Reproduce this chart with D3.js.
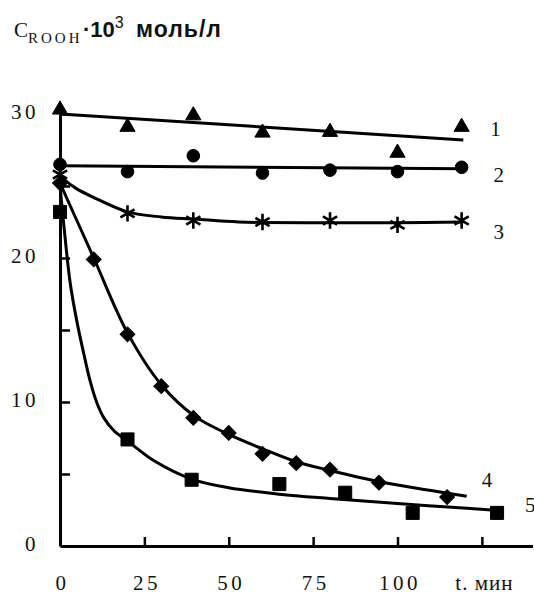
<!DOCTYPE html>
<html>
<head>
  <meta charset="utf-8">
  <script src="https://d3js.org/d3.v7.min.js"></script>
  <style>
    body { margin: 0; background: #fff; }
    svg { display: block; }
  </style>
</head>
<body>
<script type="text/javascript">

/*************************************************************************************************/
/* Data */

var t_main = [0, 20, 39.5, 60, 80, 100, 119];
var s1_vals = [30.3, 29.1, 29.9, 28.7, 28.75, 27.3, 29.1];
var s2_vals = [26.5, 26.0, 27.1, 25.9, 26.1, 26.0, 26.3];
var s3_vals = [25.8, 23.1, 22.6, 22.5, 22.6, 22.3, 22.6];

var s4_t = [0, 10, 20, 30, 39.5, 50, 60, 70, 80, 94.5, 114.7];
var s4_vals = [25.2, 19.9, 14.7, 11.1, 8.9, 7.85, 6.4, 5.75, 5.3, 4.4, 3.4];

var s5_t = [0, 20, 39, 65, 84.5, 104.5, 129.5];
var s5_vals = [23.2, 7.4, 4.6, 4.3, 3.7, 2.3, 2.3];

// fitted curves drawn through the points
var fit1_t = [0, 119.5];
var fit1_v = [30.0, 28.2];
var fit2_t = [0, 119.5];
var fit2_v = [26.4, 26.2];
var fit3_t = [0, 1.5, 5, 10, 20, 30, 40, 53, 80, 100, 119.5];
var fit3_v = [25.8, 25.4, 24.8, 24.2, 23.2, 22.85, 22.7, 22.5, 22.45, 22.45, 22.5];
var fit4_t = [0, 10, 20, 30, 40, 50, 60, 70, 80, 95, 110, 120.5];
var fit4_v = [25.2, 20.0, 14.8, 11.2, 9.0, 7.75, 6.75, 5.85, 5.25, 4.45, 3.85, 3.45];
var fit5_t = [0, 1, 3, 5, 7, 9, 11, 13, 16, 20, 28, 39, 50, 65, 80, 100, 115, 131];
var fit5_v = [25.0, 22.6, 18.3, 15.6, 13.4, 11.4, 9.9, 8.9, 8.0, 7.3, 5.9, 4.65, 4.05, 3.6, 3.3, 2.95, 2.7, 2.45];

var x_ticks = [0, 25, 50, 75, 100, 125];
var x_tick_labels = ["0", "25", "50", "75", "100", "t. мин"];
var y_ticks = [0, 5, 10, 15, 20, 25, 30];
var y_tick_labels = ["0", "", "10", "", "20", "", "30"];

var curve_names = ["1", "2", "3", "4", "5"];
var curve_label_t = [129, 130, 130, 126.5, 139.3];
var curve_label_v = [29.0, 25.8, 21.8, 4.6, 2.85];

/*************************************************************************************************/

var w = 534, h = 595;

var svg = d3.select("body").append("svg")
            .attr("width", w)
            .attr("height", h);

var x = d3.scaleLinear().domain([0, 140]).range([60, 532.5]);
var y = d3.scaleLinear().domain([0, 30]).range([546, 114]);

var serif = "'Liberation Serif', 'Times New Roman', serif";
var sans = "'Liberation Sans', Arial, sans-serif";

/*************************************************************************************************/
/* Axes */

var xAxis = d3.axisBottom(x)
              .tickValues(x_ticks)
              .tickSizeInner(-9)
              .tickSizeOuter(0)
              .tickPadding(29)
              .tickFormat(function(d, i) { return x_tick_labels[i]; });

var yAxis = d3.axisLeft(y)
              .tickValues(y_ticks)
              .tickSizeInner(-10)
              .tickSizeOuter(0)
              .tickPadding(21)
              .tickFormat(function(d, i) { return y_tick_labels[i]; });

var gx = svg.append("g").attr("transform", "translate(0," + y(0) + ")").call(xAxis);
var gy = svg.append("g").attr("transform", "translate(" + x(0) + ",0)").call(yAxis);

[gx, gy].forEach(function(g) {
  g.select(".domain").attr("stroke", "#000").attr("stroke-width", 3);
  g.selectAll(".tick line").attr("stroke", "#000").attr("stroke-width", 2.5);
  g.selectAll(".tick text")
   .attr("fill", "#111")
   .style("font-family", serif)
   .style("font-size", "21px")
   .style("letter-spacing", "3.5px");
});
gx.selectAll(".tick text").attr("dx", 2);
gx.selectAll(".tick").filter(function(d) { return d === 125; }).select("text")
  .style("letter-spacing", "1px");
gy.selectAll(".tick text").attr("dy", "0.22em");
gx.selectAll(".tick").filter(function(d) { return d === 0; }).select("line").remove();
gy.selectAll(".tick").filter(function(d) { return d === 0; }).select("line").remove();

/*************************************************************************************************/
/* Fitted curves */

var line = d3.line()
             .x(function(d) { return x(d[0]); })
             .y(function(d) { return y(d[1]); })
             .curve(d3.curveCatmullRom.alpha(0.5));

var fits = [[fit1_t, fit1_v], [fit2_t, fit2_v], [fit3_t, fit3_v], [fit4_t, fit4_v], [fit5_t, fit5_v]];

svg.append("g").selectAll("path")
   .data(fits)
   .enter()
   .append("path")
   .attr("d", function(f) { return line(d3.zip(f[0], f[1])); })
   .attr("fill", "none")
   .attr("stroke", "#000")
   .attr("stroke-width", 3);

/*************************************************************************************************/
/* Markers */

function add_points(ts, vs, symbol, size, rot, stroked) {
  var sym = d3.symbol().type(symbol).size(size);
  svg.append("g").selectAll("path")
     .data(d3.zip(ts, vs))
     .enter()
     .append("path")
     .attr("d", sym)
     .attr("transform", function(d) {
        return "translate(" + x(d[0]) + "," + y(d[1]) + ") rotate(" + rot + ")"; })
     .attr("fill", stroked ? "none" : "#000")
     .attr("stroke", "#000")
     .attr("stroke-width", stroked ? 2.6 : 1);
}

add_points(t_main, s1_vals, d3.symbolTriangle, 100, 0, false);
add_points(t_main, s2_vals, d3.symbolCircle, 125, 0, false);
add_points(t_main, s3_vals, d3.symbolAsterisk, 190, 0, true);
add_points(s4_t, s4_vals, d3.symbolSquare, 110, 45, false);
add_points(s5_t, s5_vals, d3.symbolSquare, 170, 0, false);

/*************************************************************************************************/
/* Curve numbers */

svg.append("g").selectAll("text")
   .data(curve_names)
   .enter()
   .append("text")
   .attr("x", function(d, i) { return x(curve_label_t[i]); })
   .attr("y", function(d, i) { return y(curve_label_v[i]); })
   .attr("dy", "0.35em")
   .attr("text-anchor", "middle")
   .style("font-family", serif)
   .style("font-size", "21px")
   .attr("fill", "#111")
   .text(function(d) { return d; });

/*************************************************************************************************/
/* Title */

var title = svg.append("text")
               .attr("x", 14)
               .attr("y", 37)
               .attr("fill", "#111");

title.append("tspan").text("C")
     .style("font-family", serif).style("font-size", "21px");
title.append("tspan").text("ROOH")
     .attr("dy", 6)
     .style("font-family", serif).style("font-size", "15px").style("letter-spacing", "3px");
title.append("tspan").text("·10")
     .attr("x", 83)
     .attr("dy", -6)
     .style("font-family", sans).style("font-size", "22px").style("font-weight", "bold");
title.append("tspan").text("3")
     .attr("dy", -9)
     .style("font-family", sans).style("font-size", "16px");
title.append("tspan").text("моль/л")
     .attr("x", 136)
     .attr("dy", 9)
     .style("font-family", sans).style("font-size", "23px").style("font-weight", "bold")
     .style("letter-spacing", "1px");

</script>
</body>
</html>
